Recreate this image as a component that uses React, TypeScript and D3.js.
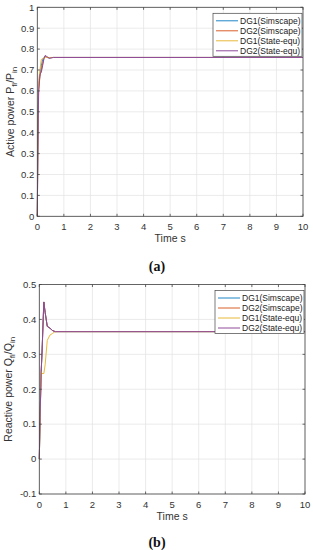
import React, { useEffect, useRef } from "react";
import * as d3 from "d3";

// legend labels / colours (MATLAB default order)
const seriesNames = ["DG1(Simscape)", "DG2(Simscape)", "DG1(State-equ)", "DG2(State-equ)"];
const seriesColors = ["#1f86c8", "#d9602a", "#e8b83a", "#8e4a9a"];

const xTicks = [0, 1, 2, 3, 4, 5, 6, 7, 8, 9, 10];
const yTicksA = [0, 0.1, 0.2, 0.3, 0.4, 0.5, 0.6, 0.7, 0.8, 0.9, 1];
const yTicksB = [-0.1, 0, 0.1, 0.2, 0.3, 0.4, 0.5];

// (a) active power
const timeA = [0, 0.02, 0.05, 0.1, 0.15, 0.2, 0.25, 0.3, 0.35, 0.45, 0.6, 10];
const dg1SimA = [0, 0.35, 0.62, 0.68, 0.72, 0.75, 0.76, 0.765, 0.76, 0.758, 0.76, 0.76];
const dg2SimA = [0, 0.3, 0.6, 0.67, 0.7, 0.73, 0.755, 0.765, 0.762, 0.758, 0.76, 0.76];
const dg1StateA = [0, 0.4, 0.65, 0.7, 0.75, 0.755, 0.755, 0.76, 0.76, 0.76, 0.76, 0.76];
const dg2StateA = [0, 0.3, 0.6, 0.68, 0.69, 0.72, 0.755, 0.77, 0.765, 0.756, 0.76, 0.76];

// (b) reactive power
const timeB = [0, 0.03, 0.07, 0.1, 0.17, 0.22, 0.3, 0.4, 0.5, 0.6, 10];
const dg1SimB = [0, 0.12, 0.25, 0.3, 0.45, 0.42, 0.38, 0.375, 0.368, 0.365, 0.365];
const dg2SimB = [0, 0.12, 0.25, 0.3, 0.45, 0.42, 0.38, 0.375, 0.368, 0.365, 0.365];
const dg1StateB = [0, 0.12, 0.25, 0.245, 0.245, 0.27, 0.34, 0.355, 0.36, 0.365, 0.365];
const dg2StateB = [0, 0.12, 0.25, 0.3, 0.45, 0.42, 0.38, 0.375, 0.368, 0.365, 0.365];

const FONT = "'Liberation Sans', Arial, sans-serif";

const App = () => {
  const svgRef = useRef<SVGSVGElement | null>(null);

  useEffect(() => {
    const svg = d3.select(svgRef.current);
    svg.selectAll("*").remove();

    const drawPanel = (opts: any) => {
      const { left, right, top, bottom, yDomain, yTicks, time, series, yLabel, caption, captionY, labelX } = opts;
      const x = d3.scaleLinear().domain([0, 10]).range([left, right]);
      const y = d3.scaleLinear().domain(yDomain).range([bottom, top]);
      const g = svg.append("g");

      g.append("rect")
        .attr("x", left).attr("y", top)
        .attr("width", right - left).attr("height", bottom - top)
        .attr("fill", "#fff");

      // grid
      xTicks.forEach((t) => {
        g.append("line")
          .attr("x1", x(t)).attr("x2", x(t))
          .attr("y1", top).attr("y2", bottom)
          .attr("stroke", "#e3e3e3").attr("stroke-width", 0.7);
      });
      yTicks.forEach((t: number) => {
        g.append("line")
          .attr("x1", left).attr("x2", right)
          .attr("y1", y(t)).attr("y2", y(t))
          .attr("stroke", "#e3e3e3").attr("stroke-width", 0.7);
      });

      // lines
      const line = d3.line<number>()
        .x((_, i) => x(time[i]))
        .y((d) => y(d));
      series.forEach((vals: number[], i: number) => {
        g.append("path")
          .attr("d", line(vals))
          .attr("fill", "none")
          .attr("stroke", seriesColors[i])
          .attr("stroke-width", 1);
      });

      // box + inward ticks
      g.append("rect")
        .attr("x", left).attr("y", top)
        .attr("width", right - left).attr("height", bottom - top)
        .attr("fill", "none").attr("stroke", "#444").attr("stroke-width", 0.8);
      xTicks.forEach((t) => {
        g.append("line").attr("x1", x(t)).attr("x2", x(t)).attr("y1", bottom).attr("y2", bottom - 2.5)
          .attr("stroke", "#444").attr("stroke-width", 0.8);
        g.append("line").attr("x1", x(t)).attr("x2", x(t)).attr("y1", top).attr("y2", top + 2.5)
          .attr("stroke", "#444").attr("stroke-width", 0.8);
        g.append("text")
          .attr("x", x(t)).attr("y", bottom + 13.5)
          .attr("text-anchor", "middle")
          .attr("font-family", FONT).attr("font-size", 9.5).attr("fill", "#333")
          .text(t);
      });
      yTicks.forEach((t: number) => {
        g.append("line").attr("x1", left).attr("x2", left + 2.5).attr("y1", y(t)).attr("y2", y(t))
          .attr("stroke", "#444").attr("stroke-width", 0.8);
        g.append("line").attr("x1", right).attr("x2", right - 2.5).attr("y1", y(t)).attr("y2", y(t))
          .attr("stroke", "#444").attr("stroke-width", 0.8);
        g.append("text")
          .attr("x", left - 3).attr("y", y(t) + 3.3)
          .attr("text-anchor", "end")
          .attr("font-family", FONT).attr("font-size", 9.5).attr("fill", "#333")
          .text(t);
      });

      // axis labels
      g.append("text")
        .attr("x", (left + right) / 2).attr("y", bottom + 26)
        .attr("text-anchor", "middle")
        .attr("font-family", FONT).attr("font-size", 10.5).attr("fill", "#333")
        .text("Time s");

      const yl = g.append("text")
        .attr("transform", `translate(${labelX},${(top + bottom) / 2}) rotate(-90)`)
        .attr("text-anchor", "middle")
        .attr("font-family", FONT).attr("font-size", 10.5).attr("fill", "#333");
      yl.append("tspan").text(yLabel[0]);
      yl.append("tspan").attr("font-size", 8).attr("dy", 2.5).text(yLabel[1]);
      yl.append("tspan").attr("dy", -2.5).text("/" + yLabel[2]);
      yl.append("tspan").attr("font-size", 8).attr("dy", 2.5).text(yLabel[3]);

      // legend
      const lx = right - 90;
      const ly = top + 6;
      g.append("rect")
        .attr("x", lx).attr("y", ly).attr("width", 89).attr("height", 43)
        .attr("fill", "#fff").attr("stroke", "#444").attr("stroke-width", 0.7);
      seriesNames.forEach((name, i) => {
        const yy = ly + 7.5 + i * 10;
        g.append("line")
          .attr("x1", lx + 3).attr("x2", lx + 25)
          .attr("y1", yy).attr("y2", yy)
          .attr("stroke", seriesColors[i]).attr("stroke-width", 1);
        g.append("text")
          .attr("x", lx + 27).attr("y", yy + 3)
          .attr("font-family", FONT).attr("font-size", 8.5).attr("fill", "#222")
          .text(name);
      });

      // caption
      g.append("text")
        .attr("x", 157).attr("y", captionY)
        .attr("text-anchor", "middle")
        .attr("font-family", "'Liberation Serif', 'DejaVu Serif', serif")
        .attr("font-size", 14).attr("font-weight", "bold").attr("fill", "#111")
        .text(caption);
    };

    drawPanel({
      left: 37.3, right: 303, top: 7.3, bottom: 216.3,
      yDomain: [0, 1], yTicks: yTicksA,
      time: timeA,
      series: [dg1SimA, dg2SimA, dg1StateA, dg2StateA],
      yLabel: ["Active power P", "fi", "P", "in"],
      caption: "(a)", captionY: 271, labelX: 14,
    });

    drawPanel({
      left: 39.3, right: 305, top: 284.5, bottom: 494,
      yDomain: [-0.1, 0.5], yTicks: yTicksB,
      time: timeB,
      series: [dg1SimB, dg2SimB, dg1StateB, dg2StateB],
      yLabel: ["Reactive power Q", "fi", "Q", "in"],
      caption: "(b)", captionY: 547, labelX: 12,
    });
  }, []);

  return (
    <svg
      ref={svgRef}
      width={313}
      height={550}
      style={{ position: "absolute", left: 0, top: 0, background: "#fff" }}
    />
  );
};

export default App;
